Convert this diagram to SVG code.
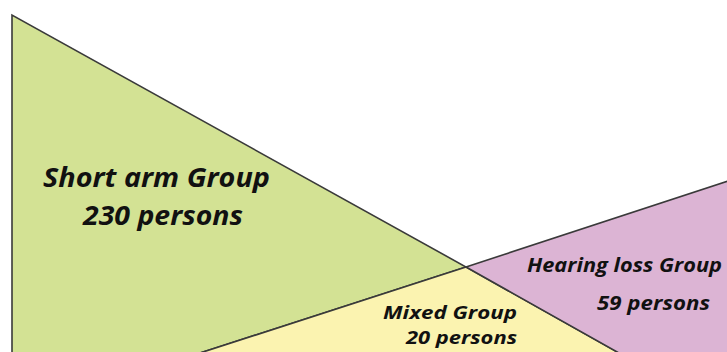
<svg xmlns="http://www.w3.org/2000/svg" width="727" height="352" viewBox="0 0 727 352">
<style>
.reg{stroke:#3a3a3a;stroke-width:1.6;stroke-linejoin:miter}
.t{font-family:"Open Sans","Liberation Sans",Arial,sans-serif;font-weight:bold;font-style:italic;fill:#111}
</style>
<rect width="727" height="352" fill="#ffffff"/>
<g id="short-arm">
<polygon class="reg" points="12,15 12,353 200,353 466,267" fill="#d3e294"/>
<text class="t" x="43" y="187" font-size="26" textLength="227" lengthAdjust="spacingAndGlyphs">Short arm Group</text>
<text class="t" x="83" y="225" font-size="26" textLength="160" lengthAdjust="spacingAndGlyphs">230 persons</text>
</g>
<g id="mixed">
<polygon class="reg" points="466,267 200,353 619,353" fill="#fbf3b0"/>
<text class="t" x="383" y="319" font-size="18.5" textLength="134" lengthAdjust="spacingAndGlyphs">Mixed Group</text>
<text class="t" x="406" y="344" font-size="18.5" textLength="111" lengthAdjust="spacingAndGlyphs">20 persons</text>
</g>
<g id="hearing-loss">
<polygon class="reg" points="466,267 728,181 728,353 619,353" fill="#dcb4d4"/>
<text class="t" x="527" y="272" font-size="19.5" textLength="195" lengthAdjust="spacingAndGlyphs">Hearing loss Group</text>
<text class="t" x="597" y="310" font-size="19.5" textLength="113" lengthAdjust="spacingAndGlyphs">59 persons</text>
</g>
<g id="connectors"></g>
</svg>
